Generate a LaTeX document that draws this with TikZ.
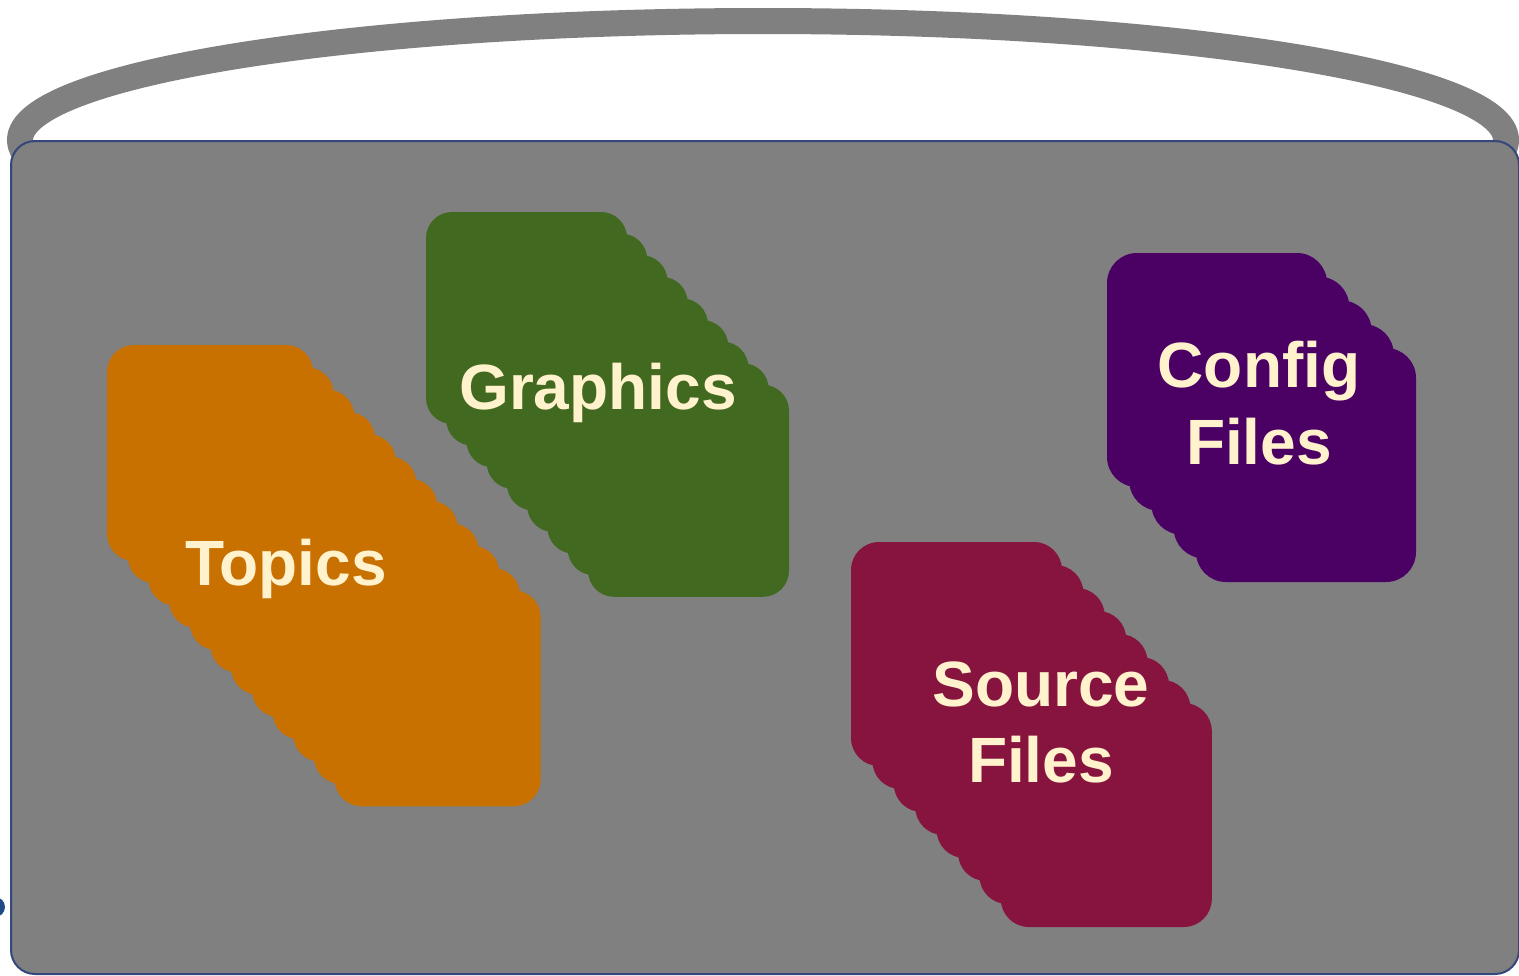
\documentclass[tikz,border=0pt]{standalone}
\usepackage{fontspec}
\setmainfont{Liberation Sans}
\definecolor{ringgray}{HTML}{808080}
\definecolor{bodygray}{HTML}{808080}
\definecolor{bodyblue}{HTML}{34477A}
\definecolor{dotblue}{HTML}{1F4A86}
\definecolor{cream}{HTML}{FFF2CC}
\definecolor{topicorange}{HTML}{C87000}
\definecolor{graphgreen}{HTML}{416920}
\definecolor{srcred}{HTML}{87143E}
\definecolor{cfgpurple}{HTML}{4B0064}
\begin{document}
\begin{tikzpicture}[x=0.5pt,y=-0.5pt,
  card/.style={rectangle, inner sep=0pt, outer sep=0pt, anchor=north west},
  lbl/.style={text=cream, font=\bfseries\fontsize{32}{38}\selectfont, anchor=base, inner sep=0pt}]
\useasboundingbox (0,0) rectangle (1519,975);
% top of the cylinder
\draw[line width=13pt, draw=ringgray, fill=white] (763,140) ellipse [x radius=371.5pt, y radius=59.5pt];
% body
\node[draw=bodyblue, line width=1pt, fill=bodygray, rounded corners=12pt,
      minimum width=754pt, minimum height=416.5pt, inner sep=0pt, anchor=north west] (body) at (10,140) {};
% small blue mark at the left edge
\fill[dotblue] (-5,907) circle [radius=5pt];
% Topics stack
\foreach \i in {11,...,0}
  \node[card, fill=topicorange, minimum width=103pt, minimum height=108pt, rounded corners=13.5pt]
    (topic\i) at ({107+20.7*\i},{345+22.3*\i}) {};
% Graphics stack
\foreach \i in {8,...,0}
  \node[card, fill=graphgreen, minimum width=100.5pt, minimum height=106pt, rounded corners=13pt]
    (graph\i) at ({426+20.25*\i},{212+21.6*\i}) {};
% Source files stack
\foreach \i in {7,...,0}
  \node[card, fill=srcred, minimum width=105.5pt, minimum height=112pt, rounded corners=14pt]
    (src\i) at ({851+21.4*\i},{542+23*\i}) {};
% Config files stack
\foreach \i in {4,...,0}
  \node[card, fill=cfgpurple, minimum width=110pt, minimum height=117pt, rounded corners=15pt]
    (cfg\i) at ({1107+22.25*\i},{253+23.75*\i}) {};
% labels
\node[lbl] (topicslbl) at (286,585) {Topics};
\node[lbl] (graphicslbl) at (598,409) {Graphics};
\node[lbl] (sourcelbl) at (1041,706) {Source};
\node[lbl] (sourcefileslbl) at (1041,782) {Files};
\node[lbl] (configlbl) at (1259,387) {Config};
\node[lbl] (configfileslbl) at (1259,464) {Files};
\end{tikzpicture}
\end{document}
